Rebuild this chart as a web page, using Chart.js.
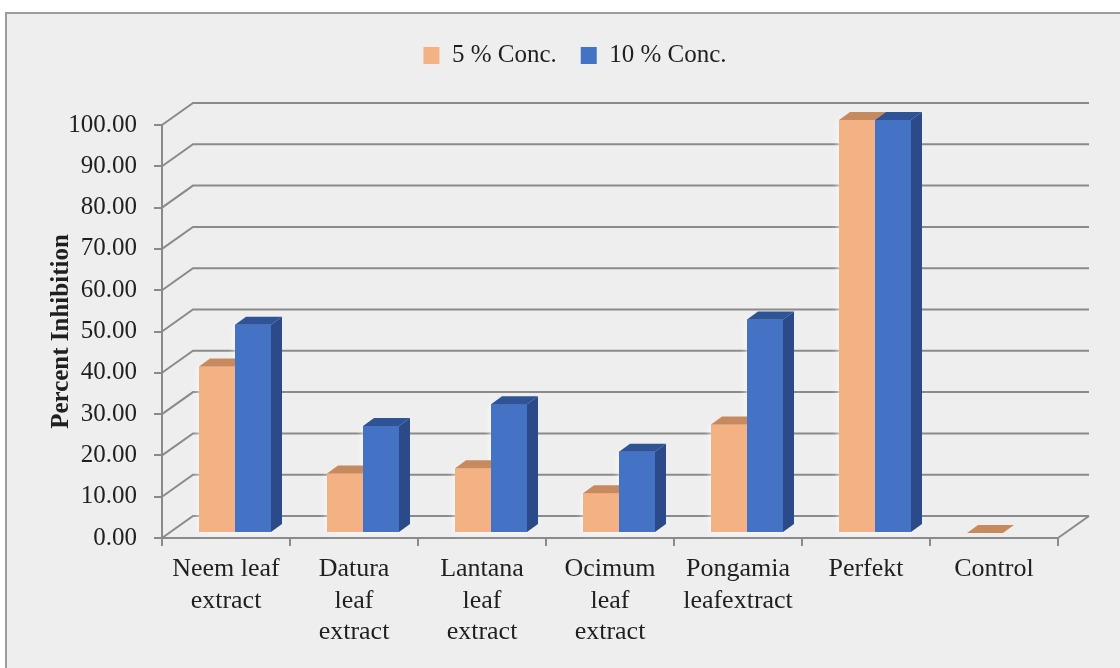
<!DOCTYPE html>
<html>
<head>
<meta charset="utf-8">
<script src="https://cdn.jsdelivr.net/npm/chart.js@4.4.1/dist/chart.umd.min.js"></script>
<style>
  html, body { margin: 0; padding: 0; overflow: hidden; background: #ffffff; width: 1120px; height: 668px; }
  #frame { position: absolute; left: 5px; top: 12px; width: 1200px; height: 720px;
           background: #eeeeee; border-left: 2px solid #9c9c9c; border-top: 2px solid #9c9c9c; }
  #chart { position: absolute; left: 0; top: 0; }
</style>
</head>
<body>
<div id="frame"></div>
<canvas id="chart" width="1120" height="668"></canvas>
<script>
// ---- data ----
const categories = [
  ["Neem leaf", "extract"],
  ["Datura", "leaf", "extract"],
  ["Lantana", "leaf", "extract"],
  ["Ocimum", "leaf", "extract"],
  ["Pongamia", "leafextract"],
  "Perfekt",
  "Control"
];
const seriesNames = ["5 % Conc.", "10 % Conc."];
const conc5  = [40.3, 14.4, 15.7, 9.6, 26.3, 100.0, 0.0];
const conc10 = [50.4, 25.9, 31.2, 19.7, 51.7, 100.0, null];
const yTickValues = [0, 10, 20, 30, 40, 50, 60, 70, 80, 90, 100];

// ---- look ----
const FONT = "'Liberation Serif', 'Times New Roman', serif";
const TEXT = '#1f1f1f';
const GRID = '#8a8a8a';
const LEGEND_TOP = 19;
const PLOT_TOP = 125;
const WALL_DX = 31, WALL_DY = -22;   // depth of the back wall
const BAR_DX = 9,  BAR_DY = -5;      // columns stand a little behind the front plane
const SIDE_DX = 11, SIDE_DY = -8;    // depth of each column
const faces = [
  { front: '#f4b183', top: '#c78a5e', side: '#c78a5e' },
  { front: '#4472c4', top: '#2f5496', side: '#2a4a89' }
];

function eachColumn(chart, fn) {
  chart.data.datasets.forEach((ds, di) => {
    const meta = chart.getDatasetMeta(di);
    meta.data.forEach((el, i) => {
      if (ds.data[i] === null || ds.data[i] === undefined) return;
      fn(el, di, el.getProps(['x', 'y', 'base', 'width'], true));
    });
  });
}

// walls, floor and extruded columns
const threeD = {
  id: 'threeD',
  afterLayout(chart) {
    // keep the legend near the top edge, above the plot's headroom
    const lg = chart.legend;
    if (lg) { lg.top = LEGEND_TOP; lg.bottom = LEGEND_TOP + lg.height; }
  },
  beforeDatasetsDraw(chart) {
    const { ctx, chartArea: a, scales: { y } } = chart;
    ctx.save();
    ctx.strokeStyle = GRID;
    ctx.lineWidth = 2;
    ctx.beginPath();
    y.ticks.forEach(t => {
      const py = y.getPixelForValue(t.value);
      ctx.moveTo(a.left, py);
      ctx.lineTo(a.left + WALL_DX, py + WALL_DY);
      ctx.lineTo(a.right + WALL_DX, py + WALL_DY);
    });
    ctx.moveTo(a.right, a.bottom);
    ctx.lineTo(a.right + WALL_DX, a.bottom + WALL_DY);
    ctx.stroke();
    ctx.restore();
  },
  // columns are drawn below, in series order
  beforeDatasetDraw() { return false; },
  afterDatasetsDraw(chart) {
    const { ctx } = chart;
    ctx.save();
    ctx.translate(BAR_DX, BAR_DY);
    // soft pale glow behind every column
    ctx.save();
    ctx.shadowColor = 'rgba(255,255,255,0.9)';
    ctx.shadowBlur = 7;
    eachColumn(chart, el => el.draw(ctx));
    ctx.restore();
    // front, top and side faces
    eachColumn(chart, (el, di, p) => {
      const f = faces[di];
      const l = p.x - p.width / 2, r = p.x + p.width / 2;
      el.draw(ctx);
      ctx.fillStyle = f.top;
      ctx.beginPath();
      ctx.moveTo(l, p.y);
      ctx.lineTo(r, p.y);
      ctx.lineTo(r + SIDE_DX, p.y + SIDE_DY);
      ctx.lineTo(l + SIDE_DX, p.y + SIDE_DY);
      ctx.closePath();
      ctx.fill();
      ctx.fillStyle = f.side;
      ctx.beginPath();
      ctx.moveTo(r, p.y);
      ctx.lineTo(r + SIDE_DX, p.y + SIDE_DY);
      ctx.lineTo(r + SIDE_DX, p.base + SIDE_DY);
      ctx.lineTo(r, p.base);
      ctx.closePath();
      ctx.fill();
    });
    ctx.restore();
  }
};

new Chart(document.getElementById('chart'), {
  type: 'bar',
  data: {
    labels: categories,
    datasets: [
      { label: seriesNames[0], data: conc5, backgroundColor: faces[0].front, borderWidth: 0, clip: false },
      { label: seriesNames[1], data: conc10, backgroundColor: faces[1].front, borderWidth: 0, clip: false }
    ]
  },
  options: {
    responsive: false,
    animation: false,
    devicePixelRatio: 1,
    categoryPercentage: 0.5625,
    barPercentage: 1,
    layout: { padding: { top: LEGEND_TOP, left: 30, right: 0, bottom: 0 } },
    plugins: {
      legend: {
        position: 'top',
        labels: {
          boxWidth: 16, boxHeight: 17, padding: 24,
          font: { family: FONT, size: 25 }, color: TEXT
        }
      },
      tooltip: { enabled: false }
    },
    scales: {
      x: {
        offset: true,
        grid: { drawOnChartArea: false, color: GRID, lineWidth: 2, tickLength: 8, offset: true },
        border: { color: GRID, width: 2 },
        ticks: { font: { family: FONT, size: 26 }, color: TEXT, padding: 8,
                 maxRotation: 0, autoSkip: false },
        afterFit: s => { s.height = 130; s.paddingRight = 62; }
      },
      y: {
        min: 0, max: 100,
        afterBuildTicks: s => { s.ticks = yTickValues.map(v => ({ value: v })); },
        ticks: { callback: v => Number(v).toFixed(2), font: { family: FONT, size: 25 },
                 color: TEXT, padding: 17, autoSkip: false },
        grid: { drawOnChartArea: false, color: GRID, lineWidth: 2, tickLength: 8 },
        border: { color: GRID, width: 2 },
        title: { display: true, text: 'Percent Inhibition', color: TEXT,
                 font: { family: FONT, size: 25, weight: 'bold' },
                 padding: { top: 17, bottom: 0 } },
        afterFit: s => { s.width = 132; s.paddingTop = PLOT_TOP; }
      }
    }
  },
  plugins: [threeD]
});
</script>
</body>
</html>
